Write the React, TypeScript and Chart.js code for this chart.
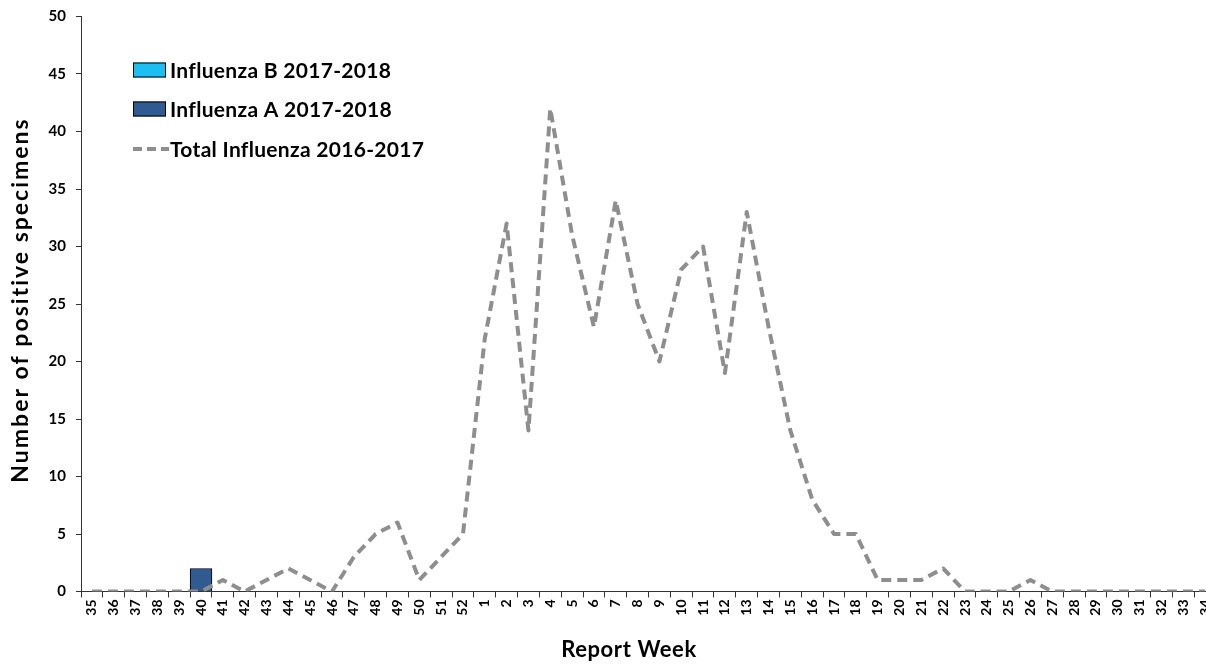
import React, { useEffect, useRef } from 'react';
import { Chart, registerables } from 'chart.js';

Chart.register(...registerables);

const weeks: string[] = [
  '35', '36', '37', '38', '39', '40', '41', '42', '43', '44', '45', '46', '47', '48', '49', '50', '51', '52',
  '1', '2', '3', '4', '5', '6', '7', '8', '9', '10', '11', '12', '13', '14', '15', '16', '17', '18', '19', '20',
  '21', '22', '23', '24', '25', '26', '27', '28', '29', '30', '31', '32', '33', '34',
];

const influenzaB2017: number[] = [
  0, 0, 0, 0, 0, 0, 0, 0, 0, 0, 0, 0, 0, 0, 0, 0, 0, 0,
  0, 0, 0, 0, 0, 0, 0, 0, 0, 0, 0, 0, 0, 0, 0, 0, 0, 0, 0, 0,
  0, 0, 0, 0, 0, 0, 0, 0, 0, 0, 0, 0, 0, 0,
];

const influenzaA2017: number[] = [
  0, 0, 0, 0, 0, 2, 0, 0, 0, 0, 0, 0, 0, 0, 0, 0, 0, 0,
  0, 0, 0, 0, 0, 0, 0, 0, 0, 0, 0, 0, 0, 0, 0, 0, 0, 0, 0, 0,
  0, 0, 0, 0, 0, 0, 0, 0, 0, 0, 0, 0, 0, 0,
];

const totalInfluenza2016: number[] = [
  0, 0, 0, 0, 0, 0, 1, 0, 1, 2, 1, 0, 3, 5, 6, 1, 3, 5,
  22, 32, 14, 42, 31, 23, 34, 25, 20, 28, 30, 19, 33, 23, 14, 8, 5, 5, 1, 1,
  1, 2, 0, 0, 0, 1, 0, 0, 0, 0, 0, 0, 0, 0,
];

const yTicks = { min: 0, max: 50, step: 5 };

const labelB = 'Influenza B 2017-2018';
const labelA = 'Influenza A 2017-2018';
const labelTotal = 'Total Influenza 2016-2017';
const xTitle = 'Report Week';
const yTitle = 'Number of positive specimens';

const colorB = '#1DBFF2';
const colorA = '#2F5A92';
const colorTotal = '#8E8E8E';
const FONT = 'Lato';

const legendPlugin = {
  id: 'customLegend',
  afterDraw(chart: any) {
    const ctx = chart.ctx as CanvasRenderingContext2D;
    ctx.save();
    const boxX = 133;
    const boxW = 33;
    const boxH = 15;
    const textX = 170;
    const rows = [70, 109, 149];
    const entries = [
      { label: labelB, kind: 'box', color: colorB },
      { label: labelA, kind: 'box', color: colorA },
      { label: labelTotal, kind: 'line', color: colorTotal },
    ];
    ctx.font = `bold 21px ${FONT}`;
    (ctx as any).letterSpacing = '0.3px';
    ctx.textBaseline = 'middle';
    ctx.textAlign = 'left';
    entries.forEach((e, i) => {
      const cy = rows[i];
      if (e.kind === 'box') {
        ctx.fillStyle = e.color;
        ctx.fillRect(boxX, cy - boxH / 2, boxW, boxH);
        ctx.strokeStyle = '#000';
        ctx.lineWidth = 1;
        ctx.strokeRect(boxX + 0.5, cy - boxH / 2 + 0.5, boxW - 1, boxH - 1);
      } else {
        ctx.strokeStyle = e.color;
        ctx.lineWidth = 4;
        ctx.setLineDash([9, 5]);
        ctx.beginPath();
        ctx.moveTo(boxX, cy);
        ctx.lineTo(boxX + 36, cy);
        ctx.stroke();
        ctx.setLineDash([]);
      }
      ctx.fillStyle = '#000';
      ctx.fillText(e.label, textX, cy + 1);
    });
    ctx.restore();
  },
};

const titlesPlugin = {
  id: 'axisTitles',
  afterDraw(chart: any) {
    const ctx = chart.ctx as CanvasRenderingContext2D;
    ctx.save();
    ctx.fillStyle = '#000';
    ctx.textAlign = 'center';
    ctx.textBaseline = 'middle';
    ctx.font = `bold 22px ${FONT}`;
    (ctx as any).letterSpacing = '0.6px';
    ctx.fillText(xTitle, 629, 650);
    ctx.translate(21, 300);
    ctx.rotate(-Math.PI / 2);
    ctx.font = `bold 23px ${FONT}`;
    (ctx as any).letterSpacing = '2px';
    ctx.fillText(yTitle, 0, 0);
    ctx.restore();
  },
};

export default function App() {
  const canvasRef = useRef<HTMLCanvasElement | null>(null);

  useEffect(() => {
    document.body.style.margin = '0';
    const canvas = canvasRef.current;
    if (!canvas) return;
    Chart.defaults.font.family = FONT;
    const chart = new Chart(canvas, {
      type: 'bar',
      data: {
        labels: weeks,
        datasets: [
          {
            type: 'line',
            label: labelTotal,
            data: totalInfluenza2016,
            borderColor: colorTotal,
            borderWidth: 4,
            borderDash: [10, 6],
            borderJoinStyle: 'round',
            pointRadius: 0,
            tension: 0,
            fill: false,
            order: 0,
            stack: 'line',
          } as any,
          {
            type: 'bar',
            label: labelA,
            data: influenzaA2017,
            backgroundColor: colorA,
            borderColor: '#000',
            borderWidth: 1,
            barPercentage: 1,
            categoryPercentage: 1,
            order: 1,
            stack: 'flu',
          },
          {
            type: 'bar',
            label: labelB,
            data: influenzaB2017,
            backgroundColor: colorB,
            borderColor: '#000',
            borderWidth: 1,
            barPercentage: 1,
            categoryPercentage: 1,
            order: 1,
            stack: 'flu',
          },
        ],
      },
      options: {
        responsive: false,
        animation: false,
        devicePixelRatio: 1,
        layout: { padding: { left: 0, right: 8, top: 16.5, bottom: 0 } },
        plugins: {
          legend: { display: false },
          tooltip: { enabled: false },
        },
        scales: {
          x: {
            stacked: true,
            offset: true,
            grid: {
              display: true,
              offset: true,
              drawOnChartArea: false,
              drawTicks: true,
              tickLength: 6,
              color: '#333',
            },
            border: { display: true, color: '#333', width: 1 },
            ticks: {
              autoSkip: false,
              minRotation: 90,
              maxRotation: 90,
              padding: 2,
              color: '#000',
              font: { size: 14, weight: 'bold' },
            },
            title: { display: false, text: xTitle },
            afterFit(scale: any) {
              scale.height = 664 - 591.5;
            },
          },
          y: {
            stacked: true,
            min: yTicks.min,
            max: yTicks.max,
            grid: {
              display: true,
              drawOnChartArea: false,
              drawTicks: true,
              tickLength: 5,
              color: '#333',
            },
            border: { display: true, color: '#333', width: 1 },
            ticks: {
              stepSize: yTicks.step,
              padding: 10,
              color: '#000',
              font: { size: 15, weight: 'bold' },
            },
            title: { display: false, text: yTitle },
            afterFit(scale: any) {
              scale.width = 81;
              scale.paddingTop = 0;
              scale.paddingBottom = 0;
            },
          },
        },
      },
      plugins: [legendPlugin, titlesPlugin],
    });
    return () => chart.destroy();
  }, []);

  return (
    <div style={{ width: 1206, height: 664, overflow: 'hidden', position: 'relative', background: '#fff' }}>
      <canvas ref={canvasRef} width={1224} height={664} style={{ width: 1224, height: 664, display: 'block' }} />
    </div>
  );
}
